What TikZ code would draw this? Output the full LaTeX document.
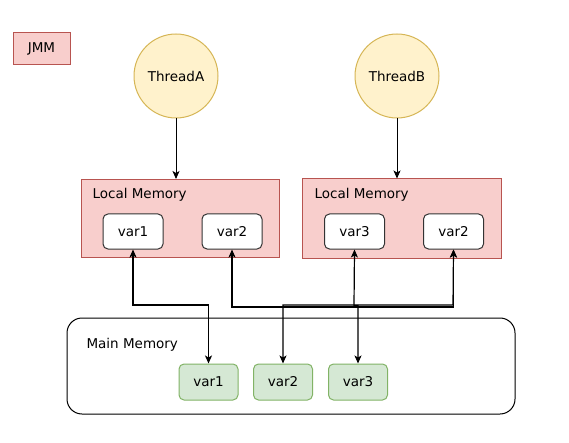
\documentclass[tikz,border=0pt]{standalone}
\usepackage{fontspec}
\setmainfont{DejaVu Sans}
\usetikzlibrary{arrows.meta}
\definecolor{redfill}{HTML}{F8CECC}
\definecolor{redline}{HTML}{B85450}
\definecolor{yelfill}{HTML}{FFF2CC}
\definecolor{yelline}{HTML}{D6B656}
\definecolor{grnfill}{HTML}{D5E8D4}
\definecolor{grnline}{HTML}{82B366}
\definecolor{darkline}{HTML}{333333}
\tikzset{
  lbl/.style={font=\fontsize{13.5}{16}\selectfont},
  redbox/.style={draw=redline,fill=redfill,line width=1pt,inner sep=0pt},
  thread/.style={circle,draw=yelline,fill=yelfill,line width=1pt,minimum size=84pt,inner sep=0pt,lbl},
  localvar/.style={draw=darkline,fill=white,rounded corners=5pt,line width=1pt,minimum width=60pt,minimum height=35pt,inner sep=0pt,lbl},
  mainvar/.style={draw=grnline,fill=grnfill,rounded corners=5pt,line width=1pt,minimum width=59pt,minimum height=36pt,inner sep=0pt,lbl},
  conn/.style={line width=1.2pt,black,{Stealth[length=8pt,width=7pt,inset=2pt]}-{Stealth[length=8pt,width=7pt,inset=2pt]}},
  down/.style={line width=0.9pt,black,-{Stealth[length=8pt,width=7pt,inset=2pt]}}
}
\begin{document}
\begin{tikzpicture}[x=1pt,y=-1pt]
\useasboundingbox (0,0) rectangle (569,443);
% JMM
\node[redbox,minimum width=57pt,minimum height=32pt,lbl] (jmm) at (41.5,49) {JMM};
% threads
\node[thread] (ta) at (176,76) {ThreadA};
\node[thread] (tb) at (397,76) {ThreadB};
% local memories
\node[redbox,minimum width=198pt,minimum height=78pt] (lma) at (180,218.5) {};
\node[redbox,minimum width=199pt,minimum height=79pt] (lmb) at (401.5,218.5) {};
\node[lbl,anchor=west] (lmal) at (89,195) {Local Memory};
\node[lbl,anchor=west] (lmbl) at (311,195) {Local Memory};
\node[localvar] (a1) at (133,231.5) {var1};
\node[localvar] (a2) at (232,231.5) {var2};
\node[localvar] (b3) at (354.5,231.5) {var3};
\node[localvar] (b2) at (453.5,231.5) {var2};
% main memory
\node[draw=black,fill=white,rounded corners=15pt,line width=1pt,minimum width=448pt,minimum height=96pt,inner sep=0pt] (mm) at (291,366) {};
\node[lbl,anchor=west] (mml) at (83,345) {Main Memory};
\node[mainvar] (m1) at (208.5,382) {var1};
\node[mainvar] (m2) at (283,382) {var2};
\node[mainvar] (m3) at (358,382) {var3};
% thread arrows
\draw[down] (ta) -- (ta |- lma.north);
\draw[down] (tb) -- (tb |- lmb.north);
% connectors
\coordinate (c1) at (133,305);
\coordinate (c2) at (232,307);
\coordinate (c3) at (453,305);
\coordinate (c4) at (354,305.5);
\draw[conn] (a1.south) -- (c1) -| (m1.north);
\draw[conn] (a2.south) -- (c2) -| (b2.south);
\draw[conn] (b2.south) -- (c3) -| (m2.north);
\draw[conn] (b3.south) -- (c4) -| (m3.north);
\end{tikzpicture}
\end{document}
